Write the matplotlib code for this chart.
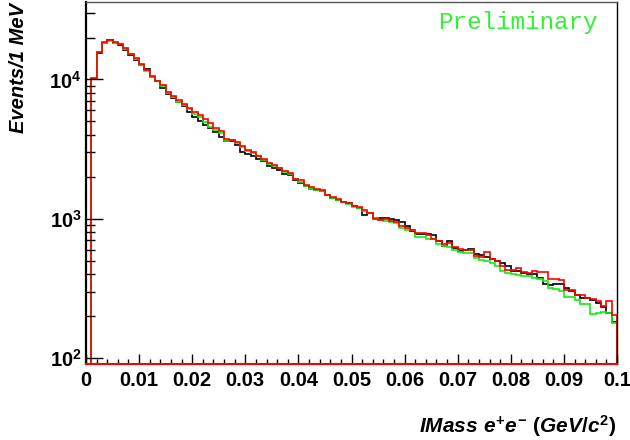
import numpy as np
import matplotlib
matplotlib.use("Agg")
import matplotlib.pyplot as plt
from matplotlib.ticker import LogLocator, MultipleLocator, FuncFormatter, NullFormatter

plt.rcParams['font.family'] = ['Liberation Sans', 'DejaVu Sans']
plt.rcParams['font.weight'] = 'bold'
plt.rcParams['mathtext.fontset'] = 'custom'
plt.rcParams['mathtext.rm'] = 'Liberation Sans:bold'
plt.rcParams['mathtext.it'] = 'Liberation Sans:bold:italic'
plt.rcParams['mathtext.bf'] = 'Liberation Sans:bold'

# e+e- invariant mass, 100 bins of 1 MeV between 0 and 0.1 GeV/c^2
mass_lo, mass_hi, n_bins = 0.0, 0.1, 100

counts_black = [
    0, 10000, 15600, 18300, 19300, 18400, 17700, 16400, 15000, 13900,
    12700, 11900, 10500, 9800, 8650, 7830, 7330, 6930, 6460, 5880,
    5410, 5040, 4720, 4470, 4180, 3890, 3620, 3620, 3390, 3000,
    2920, 2800, 2690, 2580, 2410, 2310, 2250, 2100, 2070, 1900,
    1800, 1710, 1640, 1620, 1580, 1480, 1400, 1370, 1310, 1290,
    1230, 1200, 1070, 1100, 1020, 1020, 1020, 990, 975, 940,
    880, 811, 774, 780, 780, 760, 690, 640, 690, 612,
    585, 595, 605, 560, 545, 530, 515, 495, 480, 455,
    425, 420, 410, 398, 403, 375, 340, 336, 340, 340,
    320, 305, 282, 268, 268, 262, 250, 232, 212, 180,
]

counts_green = [
    0, 10100, 15700, 18300, 19000, 18300, 17900, 16600, 15200, 14000,
    12800, 11600, 10500, 9700, 9000, 8050, 7500, 6930, 6550, 6150,
    5650, 5410, 4940, 4590, 4350, 4100, 3640, 3650, 3490, 3250,
    3050, 2950, 2800, 2650, 2480, 2400, 2300, 2170, 2100, 1920,
    1850, 1730, 1630, 1610, 1570, 1470, 1410, 1370, 1310, 1280,
    1210, 1190, 1130, 1100, 1010, 972, 957, 940, 930, 858,
    834, 834, 740, 740, 716, 716, 659, 640, 626, 600,
    577, 568, 568, 523, 508, 494, 481, 455, 419, 408,
    398, 394, 385, 385, 376, 372, 360, 318, 315, 301,
    273, 273, 263, 246, 246, 207, 211, 215, 210, 179,
]

counts_red = [
    0, 10200, 15800, 18500, 19300, 18700, 18100, 16800, 15300, 14200,
    12900, 11700, 10600, 9800, 9130, 8180, 7660, 7130, 6640, 6280,
    5820, 5570, 5190, 4860, 4510, 4270, 3730, 3680, 3550, 3350,
    3120, 3040, 2840, 2680, 2510, 2440, 2330, 2200, 2120, 1940,
    1910, 1760, 1680, 1640, 1600, 1490, 1430, 1390, 1330, 1300,
    1225, 1215, 1160, 1100, 990, 972, 990, 965, 950, 891,
    865, 835, 785, 790, 765, 720, 698, 660, 670, 630,
    605, 592, 595, 537, 530, 575, 510, 500, 455, 428,
    428, 440, 415, 405, 419, 414, 414, 372, 368, 365,
    310, 310, 285, 282, 272, 267, 255, 236, 257, 205,
]

y_lo, y_hi = 90.6, 36000

fig = plt.figure(figsize=(6.3, 4.4), dpi=100)
ax = fig.add_axes([86 / 630, 1 - 364 / 440, 531 / 630, 362 / 440])

edges = np.linspace(mass_lo, mass_hi, n_bins + 1)
for counts, color in ((counts_black, 'black'),
                      (counts_green, '#11ee11'),
                      (counts_red, '#ff0000')):
    vals = np.clip(np.asarray(counts, dtype=float), y_lo, None)
    ax.stairs(vals, edges, baseline=y_lo, color=color, lw=1.2, clip_on=False)

ax.set_xlim(mass_lo, mass_hi)
ax.set_yscale('log')
ax.set_ylim(y_lo, y_hi)

ax.xaxis.set_major_locator(MultipleLocator(0.01))
ax.xaxis.set_minor_locator(MultipleLocator(0.002))
ax.xaxis.set_major_formatter(FuncFormatter(lambda v, p: f'{v:g}'))
ax.yaxis.set_major_locator(LogLocator(base=10))
ax.yaxis.set_minor_locator(LogLocator(base=10, subs=np.arange(2, 10)))
ax.yaxis.set_major_formatter(
    FuncFormatter(lambda v, p: r'$\mathrm{10^{%d}}$' % round(np.log10(v))))
ax.yaxis.set_minor_formatter(NullFormatter())

ax.tick_params(axis='both', which='both', direction='in', colors='black',
               top=False, right=False, width=1.0, labelsize=14.5)
ax.tick_params(axis='y', which='major', length=12, pad=3)
ax.tick_params(axis='y', which='minor', length=6.5)
ax.tick_params(axis='x', which='major', length=7, pad=5)
ax.tick_params(axis='x', which='minor', length=3.6)

for side, sp in ax.spines.items():
    sp.set_linewidth(1.0)
    sp.set_color('black')
ax.spines['left'].set_linewidth(1.6)
ax.spines['top'].set_color('#555555')
ax.spines['bottom'].set_color('#ff0000')
ax.spines['bottom'].set_linewidth(1.5)

fig.text(19 / 630, 1 - 3 / 440, 'Events/1 MeV', rotation=90,
         ha='center', va='top', fontsize=14.5, style='italic', weight='bold')
fig.text(616 / 630, 1 - 433 / 440,
         r'$\mathit{IMass\ e^{+}e^{-}\ (GeV/c^{2})}$',
         ha='right', va='baseline', fontsize=15)

fig.text(598 / 630, 1 - 22 / 440, 'Preliminary', family='Liberation Mono',
         fontsize=17.5, color='#33f033', ha='right', va='center', weight='normal')

fig.savefig('out.png', dpi=100)
